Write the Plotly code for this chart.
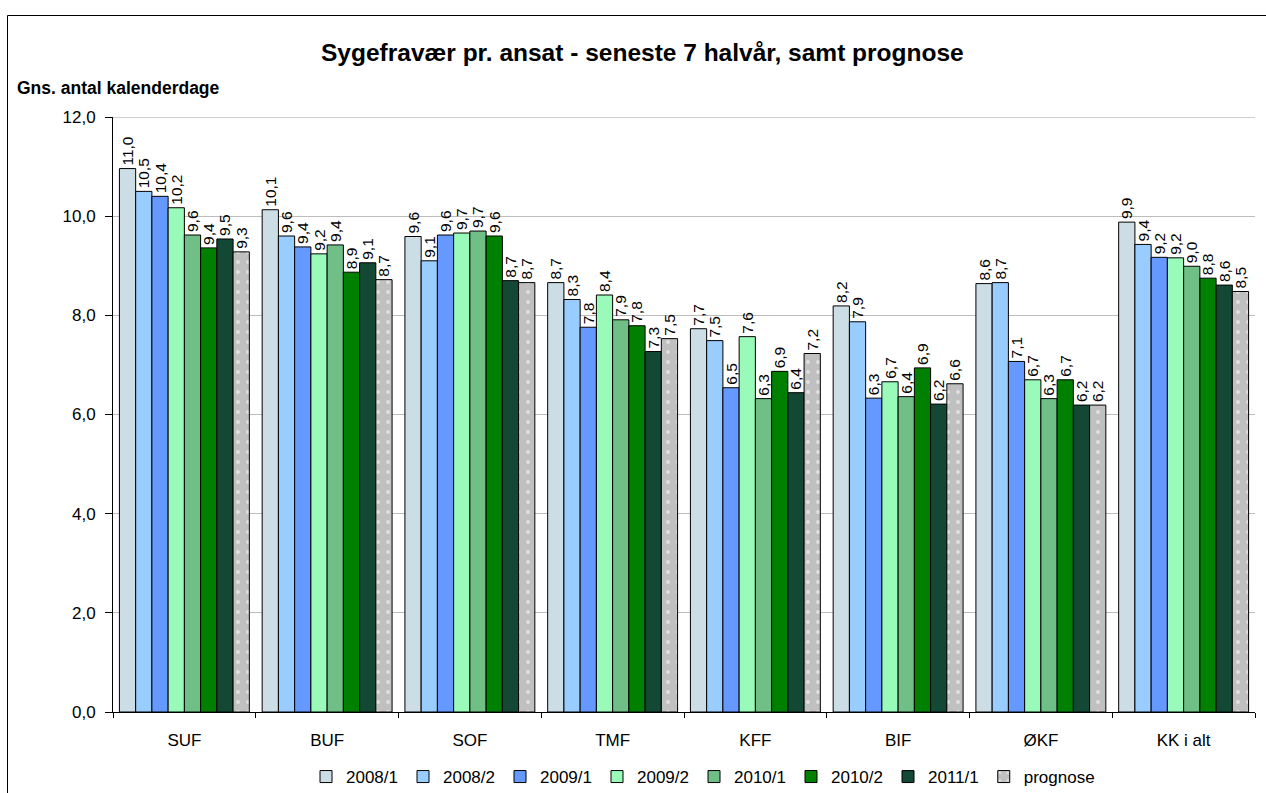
import plotly.graph_objects as go

categories = ["SUF", "BUF", "SOF", "TMF", "KFF", "BIF", "ØKF", "KK i alt"]
series_names = ["2008/1", "2008/2", "2009/1", "2009/2", "2010/1", "2010/2", "2011/1", "prognose"]

v_2008_1 = [10.96, 10.13, 9.59, 8.66, 7.73, 8.19, 8.64, 9.88]
v_2008_2 = [10.50, 9.60, 9.10, 8.32, 7.49, 7.87, 8.66, 9.43]
v_2009_1 = [10.40, 9.38, 9.62, 7.76, 6.54, 6.33, 7.07, 9.17]
v_2009_2 = [10.17, 9.24, 9.66, 8.41, 7.57, 6.66, 6.70, 9.16]
v_2010_1 = [9.62, 9.42, 9.70, 7.91, 6.32, 6.36, 6.32, 8.99]
v_2010_2 = [9.36, 8.87, 9.60, 7.79, 6.87, 6.94, 6.70, 8.75]
v_2011_1 = [9.54, 9.06, 8.70, 7.27, 6.44, 6.21, 6.19, 8.61]
v_prognose = [9.28, 8.72, 8.66, 7.53, 7.23, 6.62, 6.19, 8.48]

values = [v_2008_1, v_2008_2, v_2009_1, v_2009_2, v_2010_1, v_2010_2, v_2011_1, v_prognose]
colors = ["#CCDDE5", "#99CCFF", "#6699FF", "#99FAB9", "#6FBF87", "#008000", "#134835", "#C0C0C0"]

font = "Liberation Sans, Arial, sans-serif"

fig = go.Figure()
for name, vals, col in zip(series_names, values, colors):
    marker = dict(color=col, line=dict(color="black", width=1))
    if name == "prognose":
        marker["pattern"] = dict(shape=".", fgcolor="white", bgcolor=col,
                                 fillmode="overlay", size=10, solidity=0.12)
    fig.add_trace(go.Bar(
        x=categories, y=vals, name=name, marker=marker,
        texttemplate="%{y:.1f}", textposition="outside", textangle=-90,
        textfont=dict(family=font, size=15.5, color="black"),
        constraintext="none", cliponaxis=False,
    ))

# plot area pixels: left 113, right 1255, top 117, bottom 712
W, H = 1266, 793
L, R, T, B = 113, 1255, 117, 712
pw, ph = R - L, B - T

def px(x):
    return (x - L) / pw

def py(y):
    return (B - y) / ph

fig.update_layout(
    width=W, height=H,
    margin=dict(l=L, r=W - R, t=T, b=H - B, autoexpand=False),
    paper_bgcolor="white", plot_bgcolor="white",
    separators=",.",
    barmode="group", bargap=0.09, bargroupgap=0,
    font=dict(family=font, size=17, color="black"),
    showlegend=True,
    legend=dict(orientation="h", x=px(703), y=py(795), xanchor="center", yanchor="bottom",
                font=dict(family=font, size=17), itemwidth=30, traceorder="normal",
                tracegroupgap=0, bgcolor="rgba(0,0,0,0)"),
    xaxis=dict(type="category", showline=True, linecolor="black", linewidth=1,
               ticks="outside", tickson="boundaries", ticklen=5, tickcolor="black",
               ticklabelstandoff=13,
               tickfont=dict(family=font, size=17), showgrid=False),
    yaxis=dict(range=[0, 12], dtick=2, tickformat=".1f", showline=True, linecolor="black",
               linewidth=1, ticks="outside", ticklen=7, tickcolor="black",
               ticklabelstandoff=6,
               showgrid=True, gridcolor="#BDBDBD", gridwidth=1,
               tickfont=dict(family=font, size=17), zeroline=False),
    annotations=[
        dict(text="<b>Sygefravær pr. ansat - seneste 7 halvår, samt prognose</b>",
             xref="paper", yref="paper", x=px(642), y=py(53), xanchor="center", yanchor="middle",
             showarrow=False, font=dict(family=font, size=24.5, color="black")),
        dict(text="<b>Gns. antal kalenderdage</b>",
             xref="paper", yref="paper", x=px(15), y=py(88), xanchor="left", yanchor="middle",
             showarrow=False, font=dict(family=font, size=17.5, color="black")),
    ],
    shapes=[
        dict(type="rect", xref="paper", yref="paper", x0=px(7.5), x1=px(1300), y0=py(830), y1=py(15.5),
             line=dict(color="black", width=1), fillcolor="rgba(0,0,0,0)", layer="below"),
        dict(type="line", xref="paper", yref="y", x0=0, x1=1, y0=12, y1=12,
             line=dict(color="#A0A0A0", width=1), layer="below"),
    ],
)

fig.write_html("out.html", config={"displayModeBar": False},
               post_script="document.body.style.margin='0';document.body.style.overflow='hidden';")
